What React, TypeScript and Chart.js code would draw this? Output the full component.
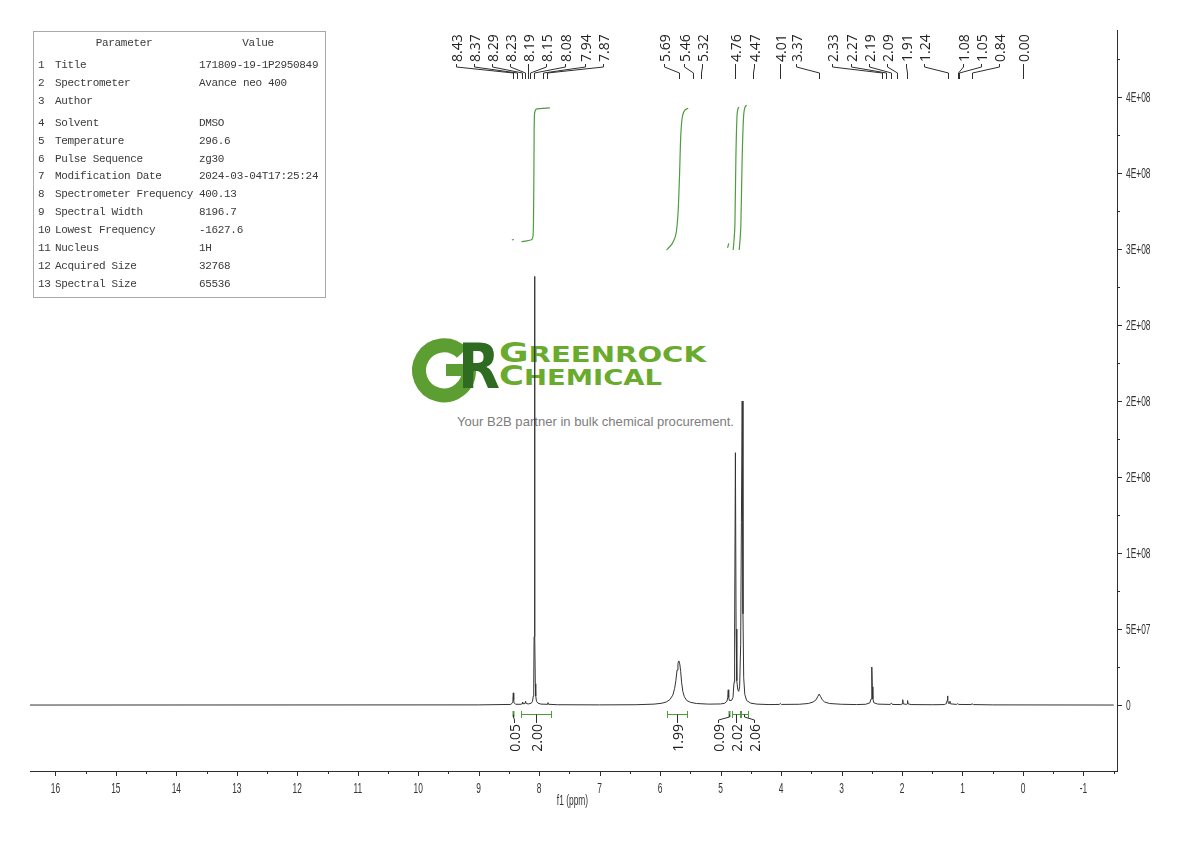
import React, { useEffect, useRef } from "react";
import { Chart, registerables } from "chart.js";

Chart.register(...registerables);

const W = 1190;
const H = 841;

// ---- 1H spectrum trace: chemical shift (ppm) and intensity (x10^6) ----
const shiftPpm = [
  16.42, 9.0, 8.47, 8.44, 8.435, 8.428, 8.421, 8.415, 8.39, 8.3, 8.283, 8.276, 8.269, 8.235, 8.225, 8.215,
  8.18, 8.13, 8.11, 8.097, 8.09, 8.084, 8.077, 8.07, 8.064, 8.057, 8.045, 8.02, 7.97, 7.87, 7.855, 7.845,
  7.7, 7.0, 6.4, 6.1, 5.97, 5.9, 5.84, 5.79, 5.76, 5.74, 5.72, 5.705, 5.69, 5.675, 5.66, 5.645, 5.625, 5.6,
  5.56, 5.5, 5.4, 5.2, 5.0, 4.93, 4.895, 4.882, 4.874, 4.866, 4.855, 4.82, 4.795, 4.778, 4.768, 4.755, 4.744,
  4.732, 4.715, 4.7, 4.685, 4.668, 4.656, 4.643, 4.63, 4.618, 4.6, 4.57, 4.5, 4.4, 4.2, 4.03, 4.012, 3.995,
  3.7, 3.55, 3.47, 3.42, 3.395, 3.37, 3.345, 3.32, 3.28, 3.2, 3.0, 2.75, 2.6, 2.53, 2.512, 2.503, 2.497,
  2.491, 2.482, 2.465, 2.4, 2.2, 2.172, 2.16, 2.02, 1.995, 1.988, 1.981, 1.93, 1.915, 1.908, 1.901, 1.85,
  1.5, 1.3, 1.265, 1.255, 1.248, 1.241, 1.23, 1.215, 1.208, 1.2, 1.1, 1.085, 1.06, 0.86, 0.84, 0.82, 0.5, -1.5,
];
const intensityM = [
  0, 0.1, 0.4, 1.5, 3.5, 8, 3.5, 1.5, 0.5, 0.5, 0.9, 2, 0.9, 0.9, 2.5, 1,
  0.7, 1.2, 2.5, 6, 14, 45, 282, 45, 14, 6, 2.5, 1.2, 0.6, 0.5, 1.6, 0.5,
  0.2, 0.1, 0.2, 0.6, 1.2, 2, 3.5, 6.5, 11, 16, 23, 27.5, 29, 27, 22, 15, 9, 5.5,
  3, 1.8, 1, 0.6, 0.7, 1.2, 2.5, 5, 10, 5, 3, 3, 5, 15, 50, 166, 50,
  16, 10, 9, 12, 40, 120, 200, 60, 18, 7, 3, 1.2, 0.6, 0.3, 0.4, 1, 0.4,
  0.5, 1, 2, 3.5, 5.5, 7.2, 5.5, 3.5, 2, 1, 0.5, 0.3, 0.5, 1.5, 4, 12, 25,
  12, 4, 1.5, 0.6, 0.4, 1.2, 0.4, 0.3, 0.8, 3.5, 0.8, 0.4, 0.8, 3, 0.8, 0.3,
  0.2, 0.3, 1, 3, 6, 3, 1, 1.2, 2.5, 0.8, 0.4, 0.9, 0.4, 0.3, 0.8, 0.3, 0.1, 0,
];

// ---- peak picking ----
const peakLabels = [
  "8.43", "8.37", "8.29", "8.23", "8.19", "8.15", "8.08", "7.94", "7.87",
  "5.69", "5.46", "5.32", "4.76", "4.47", "4.01", "3.37",
  "2.33", "2.27", "2.19", "2.09", "1.91", "1.24", "1.08", "1.05", "0.84", "0.00",
];
const peakPpm = peakLabels.map(Number);
// where each label text sits along the shift axis after spreading
const peakLabelSlotPpm = [
  9.378, 9.08, 8.783, 8.485, 8.187, 7.889, 7.575, 7.244, 6.947,
  5.938, 5.607, 5.309, 4.763, 4.449, 4.019, 3.755,
  3.159, 2.845, 2.547, 2.249, 1.935, 1.637, 0.992, 0.695, 0.397, 0.0,
];

// ---- integrals ----
const integralValues = ["0.05", "2.00", "1.99", "0.09", "2.02", "2.06"];
const integralFromPpm = [8.44, 8.303, 5.893, 4.871, 4.818, 4.669];
const integralToPpm = [8.42, 7.807, 5.562, 4.846, 4.681, 4.544];
const integralLabelPpm = [8.42, 8.06, 5.728, 5.045, 4.747, 4.449];

// integral curves: shift (ppm) and level (fraction of plot height)
const integralAPpm = [8.451, 8.418];
const integralALevel = [0.7166, 0.7173];
const integralBPpm = [8.292, 8.204, 8.138, 8.105, 8.095, 8.088, 8.083, 8.075, 8.043, 7.989, 7.823];
const integralBLevel = [0.7143, 0.7155, 0.7166, 0.7206, 0.7368, 0.7976, 0.865, 0.888, 0.8934, 0.894, 0.8948];
const integralCPpm = [5.893, 5.867, 5.784, 5.728, 5.701, 5.678, 5.662, 5.64, 5.607, 5.536];
const integralCLevel = [0.7031, 0.7054, 0.7143, 0.7301, 0.7571, 0.8066, 0.8516, 0.8785, 0.8897, 0.8943];
const integralDPpm = [4.885, 4.865];
const integralDLevel = [0.706, 0.712];
const integralEPpm = [4.792, 4.772, 4.763, 4.747, 4.725, 4.697];
const integralELevel = [0.7031, 0.7233, 0.7395, 0.8286, 0.888, 0.8961];
const integralFPpm = [4.692, 4.673, 4.664, 4.643, 4.615, 4.57];
const integralFLevel = [0.7031, 0.7233, 0.7395, 0.8286, 0.888, 0.8988];

// ---- axes ----
const xTickValues = [16, 15, 14, 13, 12, 11, 10, 9, 8, 7, 6, 5, 4, 3, 2, 1, 0, -1];
const xTickLabels = ["16", "15", "14", "13", "12", "11", "10", "9", "8", "7", "6", "5", "4", "3", "2", "1", "0", "-1"];
const yTickValues = [0, 5e7, 1e8, 1.5e8, 2e8, 2.5e8, 3e8, 3.5e8, 4e8];
const yTickLabels = ["0", "5E+07", "1E+08", "2E+08", "2E+08", "2E+08", "3E+08", "4E+08", "4E+08"];

// ---- acquisition parameters ----
const paramNames = [
  "Title", "Spectrometer", "Author", "Solvent", "Temperature", "Pulse Sequence", "Modification Date",
  "Spectrometer Frequency", "Spectral Width", "Lowest Frequency", "Nucleus", "Acquired Size", "Spectral Size",
];
const paramValues = [
  "171809-19-1P2950849", "Avance neo 400", "", "DMSO", "296.6", "zg30", "2024-03-04T17:25:24",
  "400.13", "8196.7", "-1627.6", "1H", "32768", "65536",
];

const AXIS_FONT = "15px 'Liberation Sans', Arial, sans-serif";
const AXIS_SQUEEZE = 0.56; // condensed look of the axis numerals
const LABEL_FONT = "14px 'Open Sans', 'DejaVu Sans', sans-serif";
const INK = "#2e2e2e";
const GREEN = "#4f9c3e";

// condensed text drawn at a scale position
function squeezedText(ctx: any, text: string, x: number, y: number, align: "center" | "left") {
  ctx.save();
  ctx.translate(x, y);
  ctx.scale(AXIS_SQUEEZE, 1);
  ctx.textAlign = align;
  ctx.textBaseline = "middle";
  ctx.fillText(text, 0, 0);
  ctx.restore();
}

const annotations = {
  id: "nmrAnnotations",
  afterDraw(chart: any) {
    const { ctx, chartArea: a } = chart;
    const xs = chart.scales.x;
    const ys = chart.scales.y;
    const seg = (pts: number[][], color: string) => {
      ctx.strokeStyle = color;
      ctx.beginPath();
      pts.forEach(([px, py], i) => (i === 0 ? ctx.moveTo(px, py) : ctx.lineTo(px, py)));
      ctx.stroke();
    };
    ctx.save();
    ctx.lineWidth = 1;

    // major / minor tick marks on the shift axis
    for (let k = -3; k <= 32; k++) {
      const px = Math.round(xs.getPixelForValue(k / 2)) + 0.5;
      const len = k % 2 === 0 ? 5 : 3;
      seg([[px, a.bottom], [px, a.bottom + len]], INK);
    }
    // major / minor tick marks on the intensity axis
    for (let k = 0; k <= 17; k++) {
      const py = Math.round(ys.getPixelForValue(k * 2.5e7)) + 0.5;
      const len = k % 2 === 0 ? 5 : 3;
      seg([[a.right, py], [a.right + len, py]], INK);
    }

    // tick labels
    ctx.font = AXIS_FONT;
    ctx.fillStyle = "#333";
    xs.ticks.forEach((t: any, i: number) => {
      squeezedText(ctx, xTickLabels[i], xs.getPixelForValue(t.value), a.bottom + 18, "center");
    });
    ys.ticks.forEach((t: any, i: number) => {
      squeezedText(ctx, yTickLabels[i], a.right + 9, ys.getPixelForValue(t.value) + 0.5, "left");
    });
    squeezedText(ctx, "f1 (ppm)", (xs.left + xs.right) / 2 - 1, 801, "center");

    // peak labels with connectors down to their shifts
    ctx.font = LABEL_FONT;
    ctx.fillStyle = "#222";
    peakLabels.forEach((text, i) => {
      const lx = Math.round(xs.getPixelForValue(peakLabelSlotPpm[i])) + 0.5;
      const px = Math.round(xs.getPixelForValue(peakPpm[i])) + 0.5;
      seg([[lx, 64], [lx, 67], [px, 73], [px, 79]], INK);
      ctx.save();
      ctx.translate(lx, 62);
      ctx.rotate(-Math.PI / 2);
      ctx.textAlign = "left";
      ctx.textBaseline = "alphabetic";
      ctx.fillText(text, 0, 5);
      ctx.restore();
    });

    // integral brackets and values
    const by = 714.5;
    integralValues.forEach((text, i) => {
      const x1 = xs.getPixelForValue(integralFromPpm[i]);
      const x2 = xs.getPixelForValue(integralToPpm[i]);
      const xc = Math.round((x1 + x2) / 2) + 0.5;
      const lx = Math.round(xs.getPixelForValue(integralLabelPpm[i])) + 0.5;
      if (Math.abs(x2 - x1) < 4) {
        ctx.fillStyle = GREEN;
        ctx.fillRect(xc - 1, 711, 2, 6);
      } else {
        const l = Math.round(x1) + 0.5;
        const r = Math.round(x2) + 0.5;
        seg([[l, by], [r, by]], GREEN);
        seg([[l, 711], [l, 718]], GREEN);
        seg([[r, 711], [r, 718]], GREEN);
      }
      seg([[xc, by], [xc, 717], [lx, 720], [lx, 723]], INK);
      ctx.save();
      ctx.fillStyle = "#222";
      ctx.translate(lx, 724);
      ctx.rotate(-Math.PI / 2);
      ctx.textAlign = "right";
      ctx.textBaseline = "alphabetic";
      ctx.fillText(text, 0, 5);
      ctx.restore();
    });
    ctx.restore();
  },
};

function curve(ppm: number[], level: number[]) {
  return {
    data: ppm.map((p, i) => ({ x: p, y: level[i] })),
    borderColor: GREEN,
    borderWidth: 1.2,
    pointRadius: 0,
    cubicInterpolationMode: "monotone",
    yAxisID: "yi",
  };
}

function ParamTable() {
  const rowY = paramNames.map((_, i) => (i < 3 ? 65 + 18 * i : 69 + 17.9 * i));
  const base = {
    position: "absolute" as const,
    lineHeight: "12px",
    whiteSpace: "pre" as const,
  };
  return (
    <div
      style={{
        position: "absolute",
        left: 33,
        top: 31,
        width: 291,
        height: 265,
        border: "1px solid #a9a9a9",
        fontFamily: "'Liberation Mono', 'DejaVu Sans Mono', monospace",
        fontSize: 11,
        letterSpacing: "-0.33px",
        color: "#3a3a3a",
        background: "rgba(255,255,255,0.6)",
      }}
    >
      <span style={{ ...base, left: 124 - 34, top: 43 - 38, transform: "translateX(-50%)" }}>Parameter</span>
      <span style={{ ...base, left: 258 - 34, top: 43 - 38, transform: "translateX(-50%)" }}>Value</span>
      {paramNames.map((name, i) => (
        <React.Fragment key={name}>
          <span style={{ ...base, left: 4, top: rowY[i] - 38 }}>{String(i + 1)}</span>
          <span style={{ ...base, left: 21, top: rowY[i] - 38 }}>{name}</span>
          <span style={{ ...base, left: 165, top: rowY[i] - 38 }}>{paramValues[i]}</span>
        </React.Fragment>
      ))}
    </div>
  );
}

function Watermark() {
  return (
    <svg width={W} height={H} style={{ position: "absolute", left: 0, top: 0 }}>
      <path d="M 462 353 A 25 25 0 1 0 469 370" fill="none" stroke="#5c9e32" strokeWidth={14} />
      <rect x={446} y={364} width={28} height={12} fill="#5c9e32" />
      <text
        x={458}
        y={388}
        fontFamily="'DejaVu Sans', sans-serif"
        fontWeight="bold"
        fontSize={62}
        fill="#2f6b20"
        textLength={42}
        lengthAdjust="spacingAndGlyphs"
      >
        R
      </text>
      <text
        x={499}
        y={362}
        fontFamily="'DejaVu Sans', sans-serif"
        fontWeight="bold"
        fill="#6aab2e"
        textLength={207}
        lengthAdjust="spacingAndGlyphs"
      >
        <tspan fontSize={26}>G</tspan>
        <tspan fontSize={21}>REENROCK</tspan>
      </text>
      <text
        x={499}
        y={385}
        fontFamily="'DejaVu Sans', sans-serif"
        fontWeight="bold"
        fill="#6aab2e"
        textLength={163}
        lengthAdjust="spacingAndGlyphs"
      >
        <tspan fontSize={26}>C</tspan>
        <tspan fontSize={21}>HEMICAL</tspan>
      </text>
      <text
        x={457}
        y={426}
        fontFamily="'Liberation Sans', Arial, sans-serif"
        fontSize={13.5}
        fill="#7d7d7d"
        textLength={277}
        lengthAdjust="spacingAndGlyphs"
      >
        Your B2B partner in bulk chemical procurement.
      </text>
    </svg>
  );
}

export default function App() {
  const canvasRef = useRef<HTMLCanvasElement>(null);

  useEffect(() => {
    const canvas = canvasRef.current;
    if (!canvas) return;
    const chart = new Chart(canvas, {
      type: "line",
      data: {
        datasets: [
          {
            data: shiftPpm.map((p, i) => ({ x: p, y: intensityM[i] * 1e6 })),
            borderColor: "#333333",
            borderWidth: 1,
            pointRadius: 0,
            tension: 0,
            yAxisID: "y",
          } as any,
          curve(integralAPpm, integralALevel),
          curve(integralBPpm, integralBLevel),
          curve(integralCPpm, integralCLevel),
          curve(integralDPpm, integralDLevel),
          curve(integralEPpm, integralELevel),
          curve(integralFPpm, integralFLevel),
        ],
      },
      options: {
        animation: false,
        responsive: false,
        maintainAspectRatio: false,
        events: [],
        layout: { padding: { left: 30, top: 30, right: 0, bottom: 0 } },
        plugins: { legend: { display: false }, tooltip: { enabled: false } },
        scales: {
          x: {
            type: "linear",
            reverse: true,
            min: -1.555,
            max: 16.42,
            position: "bottom",
            grid: { display: false, drawTicks: false },
            border: { display: true, color: INK, width: 1 },
            afterBuildTicks: (s: any) => {
              s.ticks = xTickValues.map((v) => ({ value: v }));
            },
            ticks: { display: false },
            afterFit: (s: any) => {
              s.height = 70;
            },
          },
          y: {
            type: "linear",
            position: "right",
            min: -4.34e7,
            max: 4.441e8,
            grid: { display: false, drawTicks: false },
            border: { display: true, color: INK, width: 1 },
            afterBuildTicks: (s: any) => {
              s.ticks = yTickValues.map((v) => ({ value: v }));
            },
            ticks: { display: false },
            afterFit: (s: any) => {
              s.width = 73;
            },
          },
          yi: { type: "linear", display: false, min: 0, max: 1 },
        },
      } as any,
      plugins: [annotations],
    });
    return () => chart.destroy();
  }, []);

  return (
    <div style={{ position: "absolute", left: 0, top: 0, width: W, height: H, background: "#fff", overflow: "hidden" }}>
      <Watermark />
      <canvas ref={canvasRef} width={W} height={H} style={{ position: "absolute", left: 0, top: 0, width: W, height: H }} />
      <ParamTable />
    </div>
  );
}
